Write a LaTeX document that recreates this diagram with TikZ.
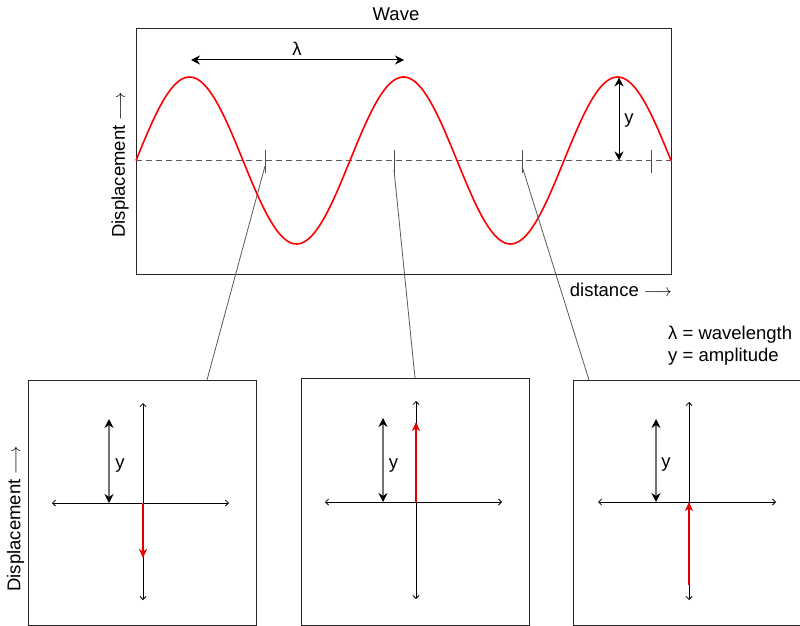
\documentclass[tikz,border=0pt]{standalone}
\usepackage{fontspec}
\setmainfont{Liberation Sans}
\usetikzlibrary{arrows.meta}
\tikzset{
  lbl/.style={font=\fontsize{18.5}{21}\selectfont, inner sep=0pt},
  framebox/.style={draw=black!85, line width=1.2pt, anchor=north west, inner sep=0pt},
  wave/.style={red, line width=1.6pt},
  midline/.style={black!65, line width=0.8pt, dash pattern=on 6pt off 4pt},
  tickmark/.style={black!70, line width=0.9pt},
  conn/.style={black!65, line width=0.8pt},
  dimarrow/.style={black, line width=1pt, {Stealth[length=9pt,width=9pt,inset=3pt]}-{Stealth[length=9pt,width=9pt,inset=3pt]}},
  ydim/.style={black!55, line width=1.1pt, {Stealth[length=9pt,width=9pt,inset=3pt,black]}-{Stealth[length=9pt,width=9pt,inset=3pt,black]}},
  axis/.style={black, line width=0.8pt, {Straight Barb[length=3pt,width=6pt]}-{Straight Barb[length=3pt,width=6pt]}},
  redarrow/.style={red!90!black, line width=2pt, -{Stealth[length=9pt,width=8pt,inset=2.5pt]}}
}
\begin{document}
\begin{tikzpicture}[x=1pt,y=-1pt]
\useasboundingbox (0,0) rectangle (800,626);

% ---------- top wave panel ----------
\node[lbl] (title) at (396,14) {Wave};
\node[framebox, minimum width=535pt, minimum height=246pt] (wavebox) at (136,28) {};
\draw[midline] (wavebox.west |- 0,160.5) -- (wavebox.east |- 0,160.5);
\draw[wave] plot[domain=0:535, samples=240, smooth] ({136+\x}, {160.5 - 83.5*sin(1.682243*\x)});

% wavelength arrow
\coordinate (la) at (191,60);
\coordinate (lb) at (404,60);
\draw[dimarrow] (la) -- (lb);
\node[lbl] (lam) at (297,49) {λ};

% amplitude arrow
\coordinate (ya) at (619,77.5);
\coordinate (yb) at (619,160.5);
\draw[dimarrow] (ya) -- (yb);
\node[lbl] (ylab) at (629,121) {y};

% ticks
\draw[tickmark] (265,150) -- (265,173);
\draw[tickmark] (394,150) -- (394,173);
\draw[tickmark] (522,150) -- (522,173);
\draw[tickmark] (651,150) -- (651,173);

\node[lbl, rotate=90] (dispA) at (120,165) {Displacement $\longrightarrow$};
\node[lbl, anchor=east] (dist) at (672,290) {distance $\longrightarrow$};

% legend
\node[lbl, anchor=west] (leg1) at (668,335) {λ = wavelength};
\node[lbl, anchor=west] (leg2) at (668,357) {y = amplitude};

% ---------- bottom panels ----------
\node[framebox, minimum width=228pt, minimum height=245pt] (b1) at (28,380) {};
\node[framebox, minimum width=228pt, minimum height=247pt] (b2) at (301,378) {};
\node[framebox, minimum width=228pt, minimum height=245pt] (b3) at (573,380) {};

% connectors
\coordinate (t1) at (265,166);
\coordinate (t2) at (394,170);
\coordinate (t3) at (522,166);
\coordinate (h1) at (207,380);
\coordinate (h2) at (415,378);
\coordinate (h3) at (589,380);
\draw[conn] (t1) -- (h1);
\draw[conn] (t2) -- (h2);
\draw[conn] (t3) -- (h3);

\node[lbl, rotate=90] (dispB) at (15.5,519) {Displacement $\longrightarrow$};

% panel 1
\coordinate (p1t) at (143,403);
\coordinate (p1b) at (143,600);
\coordinate (p1l) at (52,503);
\coordinate (p1r) at (229,503);
\draw[axis] (p1t) -- (p1b);
\draw[axis] (p1l) -- (p1r);
\coordinate (p1o) at (143,503);
\coordinate (p1e) at (143,558);
\draw[redarrow] (p1o) -- (p1e);
\coordinate (p1ya) at (109,419);
\coordinate (p1yb) at (109,503);
\draw[ydim] (p1ya) -- (p1yb);
\node[lbl] (y1) at (120,466) {y};

% panel 2
\coordinate (p2t) at (416,401);
\coordinate (p2b) at (416,599);
\coordinate (p2l) at (325,502);
\coordinate (p2r) at (502,502);
\draw[axis] (p2t) -- (p2b);
\draw[axis] (p2l) -- (p2r);
\coordinate (p2o) at (416,502);
\coordinate (p2e) at (416,422);
\draw[redarrow] (p2o) -- (p2e);
\coordinate (p2ya) at (383,418);
\coordinate (p2yb) at (383,502);
\draw[ydim] (p2ya) -- (p2yb);
\node[lbl] (y2) at (393.5,466) {y};

% panel 3
\coordinate (p3t) at (689,402);
\coordinate (p3b) at (689,600);
\coordinate (p3l) at (598,502);
\coordinate (p3r) at (776,502);
\draw[axis] (p3t) -- (p3b);
\draw[axis] (p3l) -- (p3r);
\coordinate (p3o) at (689,585);
\coordinate (p3e) at (689,502);
\draw[redarrow] (p3o) -- (p3e);
\coordinate (p3ya) at (656,419);
\coordinate (p3yb) at (656,502);
\draw[ydim] (p3ya) -- (p3yb);
\node[lbl] (y3) at (666,465) {y};
\end{tikzpicture}
\end{document}
